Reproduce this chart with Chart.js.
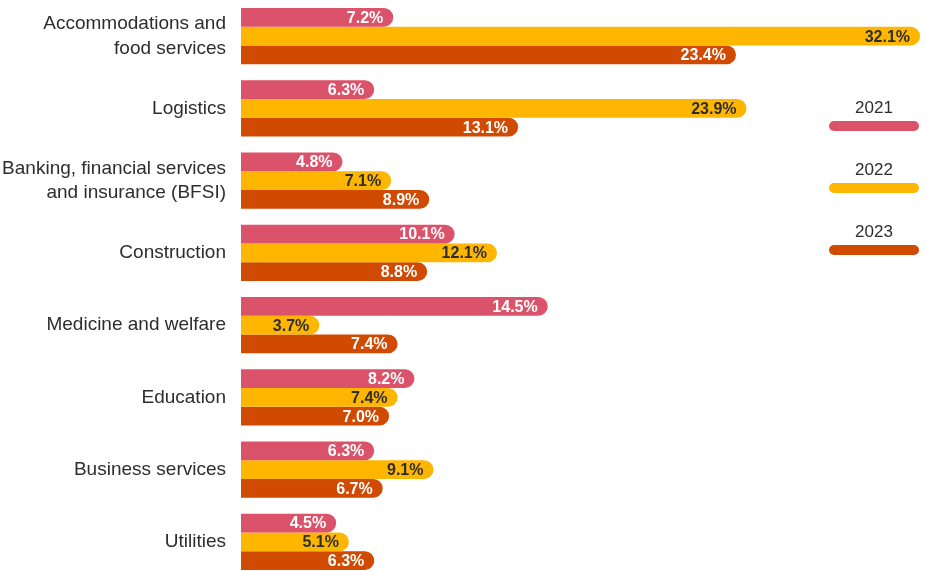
<!DOCTYPE html>
<html>
<head>
<meta charset="utf-8">
<script src="https://cdn.jsdelivr.net/npm/chart.js@4"></script>
<style>
  html, body { margin: 0; padding: 0; background: #fff; overflow: hidden; }
  #wrap { position: relative; width: 927px; height: 578px; }
</style>
</head>
<body>
<div id="wrap"><canvas id="barChart"></canvas></div>
<script>
const categories = [
  ["Accommodations and", "food services"],
  "Logistics",
  ["Banking, financial services", "and insurance (BFSI)"],
  "Construction",
  "Medicine and welfare",
  "Education",
  "Business services",
  "Utilities"
];
const years = ["2021", "2022", "2023"];
const values2021 = [7.2, 6.3, 4.8, 10.1, 14.5, 8.2, 6.3, 4.5];
const values2022 = [32.1, 23.9, 7.1, 12.1, 3.7, 7.4, 9.1, 5.1];
const values2023 = [23.4, 13.1, 8.9, 8.8, 7.4, 7.0, 6.7, 6.3];

const colors = ["#DB536A", "#FFB600", "#D04A02"];
const labelColors = ["#ffffff", "#2D2D2D", "#ffffff"];
const fontFamily = "'Liberation Sans', Arial, Helvetica, sans-serif";

// values inside the bar end
const barLabels = {
  id: "barLabels",
  afterDatasetsDraw(chart) {
    const ctx = chart.ctx;
    ctx.save();
    ctx.font = "bold 16px " + fontFamily;
    ctx.textAlign = "right";
    ctx.textBaseline = "middle";
    chart.data.datasets.forEach((ds, i) => {
      chart.getDatasetMeta(i).data.forEach((bar, j) => {
        ctx.fillStyle = labelColors[i];
        ctx.fillText(ds.data[j].toFixed(1) + "%", bar.x - 10, bar.y + 1);
      });
    });
    ctx.restore();
  }
};

// legend on the right, text above a rounded line
const sideLegend = {
  id: "sideLegend",
  afterDraw(chart) {
    const ctx = chart.ctx;
    ctx.save();
    years.forEach((y, i) => {
      const top = 113 + i * 62;
      ctx.font = "17px " + fontFamily;
      ctx.fillStyle = "#2D2D2D";
      ctx.textAlign = "center";
      ctx.textBaseline = "alphabetic";
      ctx.fillText(y, 874, top);
      ctx.strokeStyle = colors[i];
      ctx.lineWidth = 10;
      ctx.lineCap = "round";
      ctx.beginPath();
      ctx.moveTo(834, top + 13);
      ctx.lineTo(914, top + 13);
      ctx.stroke();
    });
    ctx.restore();
  }
};

new Chart(document.getElementById("barChart"), {
  type: "bar",
  data: {
    labels: categories,
    datasets: [values2021, values2022, values2023].map((d, i) => ({
      label: years[i],
      data: d,
      backgroundColor: colors[i],
      borderRadius: 10,
      borderSkipped: "start",
      categoryPercentage: 0.78,
      barPercentage: 1.0
    }))
  },
  options: {
    indexAxis: "y",
    responsive: true,
    maintainAspectRatio: false,
    animation: false,
    layout: { padding: { top: 0, right: 7, bottom: 0, left: 0 } },
    plugins: {
      legend: { display: false },
      tooltip: { enabled: false }
    },
    scales: {
      x: {
        display: false,
        min: 0,
        max: 32.1
      },
      y: {
        grid: { display: false, drawTicks: false },
        border: { display: false },
        ticks: {
          color: "#2D2D2D",
          padding: 15,
          font: { family: fontFamily, size: 19, lineHeight: 1.3 }
        },
        afterFit(scale) {
          scale.width = 241;
          scale.paddingTop = 0;
          scale.paddingBottom = 0;
        }
      }
    }
  },
  plugins: [barLabels, sideLegend]
});
</script>
</body>
</html>
